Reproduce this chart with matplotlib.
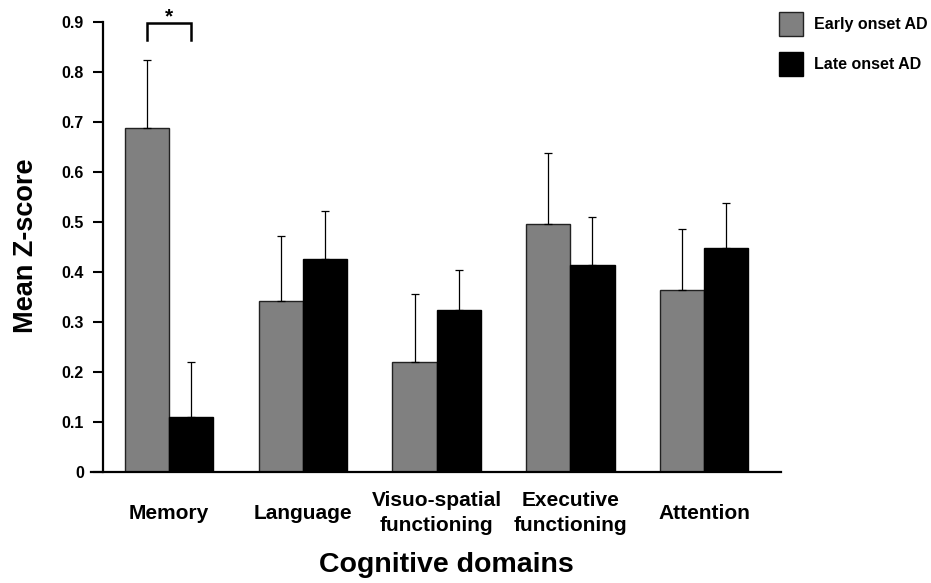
import matplotlib
matplotlib.use("Agg")
import matplotlib.pyplot as plt
import numpy as np

plt.rcParams['font.family'] = ['Liberation Sans', 'DejaVu Sans']
plt.rcParams['font.weight'] = 'bold'

categories = ["Memory", "Language", "Visuo-spatial\nfunctioning", "Executive\nfunctioning", "Attention"]
early_mean = [0.687, 0.341, 0.219, 0.495, 0.364]
early_err = [0.136, 0.131, 0.137, 0.143, 0.122]
late_mean = [0.109, 0.426, 0.323, 0.414, 0.448]
late_err = [0.111, 0.096, 0.081, 0.096, 0.090]
series_labels = ["Early onset AD", "Late onset AD"]
yticks = [0, 0.1, 0.2, 0.3, 0.4, 0.5, 0.6, 0.7, 0.8, 0.9]
ytick_labels = ["0", "0.1", "0.2", "0.3", "0.4", "0.5", "0.6", "0.7", "0.8", "0.9"]

W, H = 931, 583
fig = plt.figure(figsize=(W / 100, H / 100), dpi=100)
ax = fig.add_axes([103.3 / W, 1 - 471.5 / H, (780.7 - 103.3) / W, (471.5 - 21.7) / H])

x = np.arange(len(categories))
bw = 0.33
zeros = np.zeros(len(categories))
b1 = ax.bar(x - bw / 2, early_mean, bw, color='#808080', edgecolor='#222222', linewidth=1.0,
            yerr=[zeros, early_err], error_kw=dict(ecolor='black', elinewidth=0.9, capsize=3, capthick=0.9),
            label=series_labels[0], zorder=2)
b2 = ax.bar(x + bw / 2, late_mean, bw, color='black', edgecolor='black', linewidth=1.0,
            yerr=[zeros, late_err], error_kw=dict(ecolor='black', elinewidth=0.9, capsize=3, capthick=0.9),
            label=series_labels[1], zorder=2)

ax.set_xlim(-0.491, 4.572)
ax.set_ylim(0, 0.9)
ax.set_yticks(yticks)
ax.set_yticklabels(ytick_labels, fontsize=11.5, fontweight='bold')
ax.set_xticks(x)
ax.set_xticklabels(categories, fontsize=15, fontweight='bold', linespacing=1.37)
for lbl in ax.get_xticklabels():
    lbl.set_verticalalignment('center')
ax.tick_params(axis='x', length=0, pad=30)
ax.tick_params(axis='y', length=7, width=1.5, direction='out', pad=7)

for s in ['top', 'right']:
    ax.spines[s].set_visible(False)
ax.spines['left'].set_linewidth(1.6)
ax.spines['bottom'].set_linewidth(1.6)
ax.spines['bottom'].set_bounds(-0.58, 4.572)

ax.set_ylabel("Mean Z-score", fontsize=19.5, fontweight='bold')
ax.yaxis.set_label_coords(-0.095, 0.501)
ax.set_xlabel("Cognitive domains", fontsize=20.5, fontweight='bold')
ax.xaxis.set_label_coords(0.506, -0.180)

# significance bracket between Memory bars
xl, xr = x[0] - bw / 2, x[0] + bw / 2
ax.plot([xl, xl, xr, xr], [0.864, 0.898, 0.898, 0.864], color='black', linewidth=1.8,
        clip_on=False, solid_joinstyle='miter')
ax.text(x[0], 0.898, "*", ha='center', va='baseline', fontsize=15, fontweight='bold', clip_on=False)

fig.legend(handles=[b1, b2], labels=series_labels, loc='upper left',
           bbox_to_anchor=(779 / W, 1 - 12 / H), frameon=False,
           handlelength=1.5, handleheight=1.9, handletextpad=0.7, labelspacing=1.02,
           borderpad=0, borderaxespad=0, prop={'weight': 'bold', 'size': 11.5})

fig.savefig("out.png", dpi=100)
